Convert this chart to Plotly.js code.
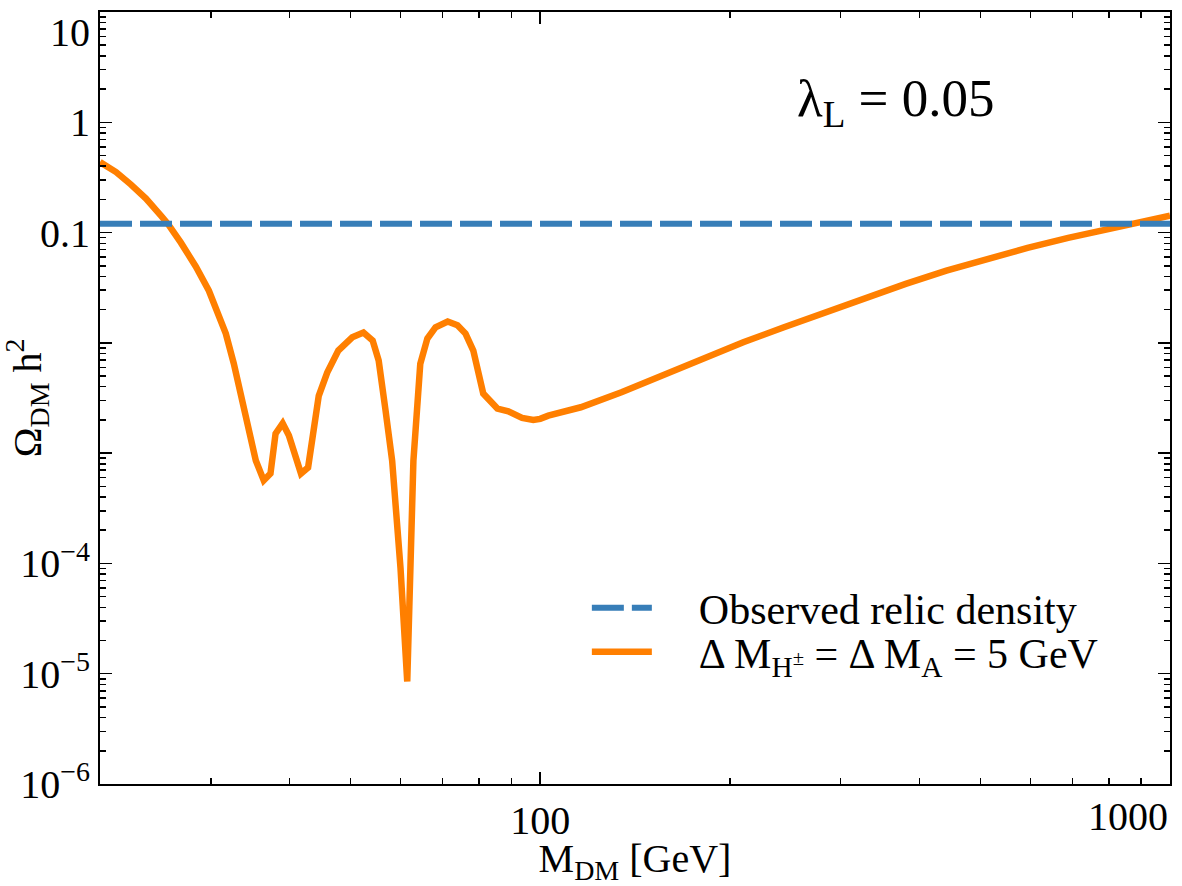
<!DOCTYPE html>
<html>
<head>
<meta charset="utf-8">
<script src="https://cdn.plot.ly/plotly-3.0.1.min.js"></script>
<style>
  html, body { margin: 0; padding: 0; background: #fff; }
  #chart { width: 1182px; height: 886px; }
</style>
</head>
<body>
<div id="chart"></div>
<script>
// Dark-matter mass [GeV] and relic abundance Omega h^2 for lambda_L = 0.05
const massGeV = [20, 21.21, 22.40, 23.66, 24.99, 25.64, 26.88, 28.40, 29.78, 30.88, 31.68, 32.62,
  33.83, 35.35, 36.39, 37.3, 38.0, 39.0, 39.9, 41.7, 42.8, 43.7, 44.5, 45.9, 47.8, 50.3, 52.4,
  54.2, 55.4, 56.8, 58.2, 60.0, 61.5, 62.9, 64.5, 66.2, 68.2, 71.3, 73.9, 76.1, 78.3, 81.2, 85.5,
  89.0, 93.6, 97.5, 100, 103, 116, 134.6, 156.1, 181.1, 210.1, 243.8, 282.8, 328.1, 380.5, 441.5,
  512.1, 594.0, 689.1, 799.3, 900.2, 1000];
const omegaH2 = [0.4355, 0.3536, 0.2723, 0.2034, 0.1423, 0.1196, 0.0810, 0.04907, 0.02972, 0.01840,
  0.01214, 0.00649, 0.00259, 0.000857, 0.000565, 0.000653, 0.001503, 0.001862, 0.001445, 0.000653,
  0.000741, 0.001862, 0.00331, 0.00537, 0.00851, 0.01122, 0.01239, 0.01047, 0.00692, 0.002455,
  0.000851, 0.0000912, 0.0000085, 0.000851, 0.00646, 0.01096, 0.0138, 0.01563, 0.01445, 0.01213,
  0.00851, 0.00347, 0.002535, 0.002399, 0.00209, 0.001995, 0.002046, 0.002188, 0.002606, 0.003565,
  0.005058, 0.007161, 0.01012, 0.01384, 0.01892, 0.02588, 0.03428, 0.04519, 0.05781, 0.07261,
  0.08954, 0.1081, 0.1239, 0.1426];

// Planck observed relic density and the plotted mass range
const observedRelic = 0.12;
const massRange = [20, 1000];

// Axis tick labels
const xTickVals = [100, 1000];
const xTickText = ['100', ''];
const yTickVals = [1e-6, 1e-5, 1e-4, 1e-3, 1e-2, 0.1, 1, 10];
const yTickText = ['10<sup>−6</sup>', '10<sup>−5</sup>', '10<sup>−4</sup>', '', '', '0.1', '1', ''];

// Minor ticks at 2..9 within each decade
function minorLogTicks(eLo, eHi) {
  const out = [];
  for (let e = eLo; e < eHi; e++) {
    for (let d = 2; d <= 9; d++) out.push(d * Math.pow(10, e));
  }
  return out;
}

const FONT = '"Liberation Serif", "Times New Roman", serif';
const PAD = '\u00a0\u00a0\u00a0\u00a0';

// Relic curve first so the dashed reference line sits on top of it
const traces = [
  {
    x: massGeV,
    y: omegaH2,
    mode: 'lines',
    name: PAD + 'Δ M<sub>H<sup>±</sup></sub> = Δ M<sub>A</sub> = 5 GeV',
    line: { color: '#ff7f00', width: 6.5 },
    legend: 'legend2'
  },
  {
    x: massRange,
    y: massRange.map(() => observedRelic),
    mode: 'lines',
    name: PAD + 'Observed relic density',
    line: { color: '#377eb8', width: 6, dash: '32px,8px' },
    legend: 'legend'
  }
];

const axisCommon = {
  type: 'log',
  showgrid: false,
  zeroline: false,
  showline: true,
  linecolor: '#000',
  linewidth: 2,
  mirror: 'allticks',
  ticks: 'inside',
  ticklen: 12,
  tickwidth: 1.5,
  tickcolor: '#000',
  tickfont: { family: FONT, size: 40, color: '#000' },
  tickmode: 'array'
};

const legendCommon = {
  x: 0.455, xanchor: 'left', yanchor: 'top',
  bgcolor: 'rgba(0,0,0,0)',
  font: { family: FONT, size: 42, color: '#000' },
  itemwidth: 60
};

const layout = {
  width: 1182,
  height: 886,
  margin: { l: 100, r: 12, t: 12, b: 102 },
  paper_bgcolor: '#fff',
  plot_bgcolor: '#fff',
  font: { family: FONT, color: '#000' },
  showlegend: true,
  legend: Object.assign({}, legendCommon, { y: 0.272 }),
  legend2: Object.assign({}, legendCommon, { y: 0.215 }),
  xaxis: Object.assign({}, axisCommon, {
    range: [Math.log10(massRange[0]), Math.log10(massRange[1])],
    tickvals: xTickVals,
    ticktext: xTickText,
    minor: { tickmode: 'array', tickvals: minorLogTicks(1, 3), ticks: 'inside', ticklen: 6, tickwidth: 1.5, tickcolor: '#000' },
    title: { text: 'M<sub>DM</sub> [GeV]', font: { family: FONT, size: 40 }, standoff: 4 }
  }),
  yaxis: Object.assign({}, axisCommon, {
    range: [-6, 1],
    tickvals: yTickVals,
    ticktext: yTickText,
    minor: { tickmode: 'array', tickvals: minorLogTicks(-6, 1), ticks: 'inside', ticklen: 6, tickwidth: 1.5, tickcolor: '#000' }
  }),
  annotations: [
    {
      text: 'Ω<sub>DM</sub> h<sup>2</sup>',
      xref: 'paper', yref: 'paper', x: -0.068, y: 0.5,
      xanchor: 'center', yanchor: 'middle', textangle: -90, showarrow: false,
      font: { family: FONT, size: 40, color: '#000' }
    },
    {
      text: 'λ<sub>L</sub> = 0.05',
      xref: 'paper', yref: 'paper', x: 0.744, y: 0.884,
      xanchor: 'center', yanchor: 'middle', showarrow: false,
      font: { family: FONT, size: 53, color: '#000' }
    },
    {
      text: '1000',
      xref: 'x', yref: 'paper', x: Math.log10(1000), y: 0,
      xanchor: 'right', yanchor: 'top', yshift: -8, showarrow: false,
      font: { family: FONT, size: 40, color: '#000' }
    },
    {
      text: '10',
      xref: 'paper', yref: 'y', x: 0, y: Math.log10(10),
      xanchor: 'right', yanchor: 'top', xshift: -8, yshift: 4, showarrow: false,
      font: { family: FONT, size: 40, color: '#000' }
    }
  ]
};

Plotly.newPlot('chart', traces, layout, { displayModeBar: false, staticPlot: true });
</script>
</body>
</html>
